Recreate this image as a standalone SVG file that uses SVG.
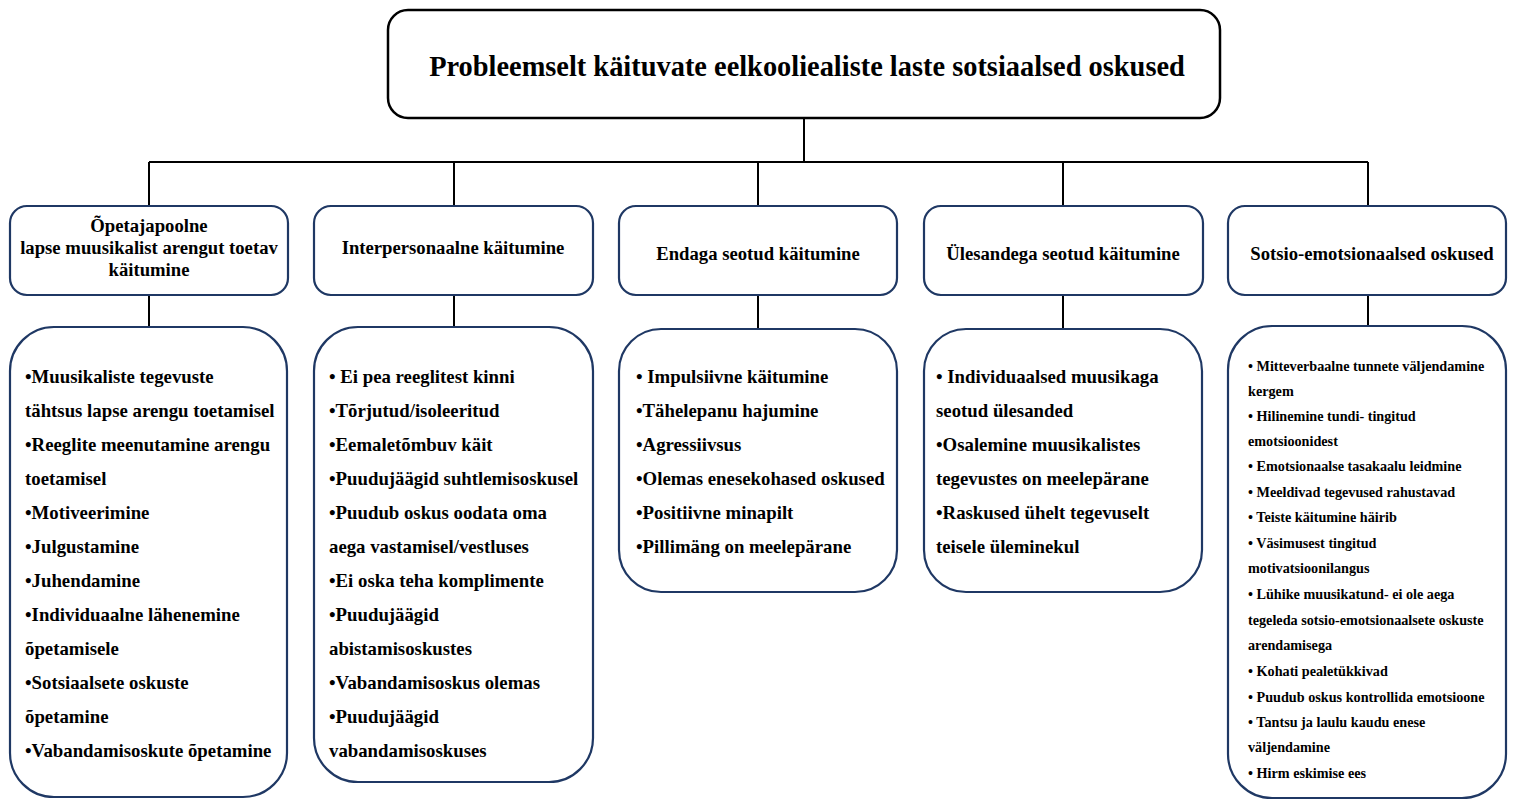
<svg xmlns="http://www.w3.org/2000/svg" width="1514" height="800" viewBox="0 0 1514 800">
<style>
.title{fill:#fff;stroke:#000;stroke-width:2.5}
.hdr{fill:#fff;stroke:#1f3864;stroke-width:2.2}
.box{fill:#fff;stroke:#1f3864;stroke-width:2.2}
.conn{stroke:#000;stroke-width:2;fill:none}
text{font-family:"Liberation Serif","Times New Roman",serif;font-weight:bold;fill:#000}
.t{font-size:28.4px;text-anchor:middle}
.h{font-size:18.7px;text-anchor:middle}
.c{font-size:18.8px}
.s{font-size:14.2px}
</style>
<rect width="1514" height="800" fill="#fff"/>
<g id="connectors">
<path class="conn" d="M804,118 V162 M149,162 H1368 M149,162 V206 M454,162 V206 M758,162 V206 M1063,162 V206 M1368,162 V206"/>
<path class="conn" d="M149,295 V327 M454,295 V327 M758,295 V329 M1063,295 V329 M1368,295 V326"/>
</g>
<g id="title">
<rect class="title" x="388" y="10" width="832" height="108" rx="20"/>
<text class="t" x="807" y="76">Probleemselt käituvate eelkoolie­aliste laste sotsiaalsed oskused</text>
</g>
<g id="h1">
<rect class="hdr" x="10" y="206" width="278" height="89" rx="17"/>
<text class="h" x="149" y="232">Õpetajapoolne</text>
<text class="h" x="149" y="254">lapse muusikalist arengut toetav</text>
<text class="h" x="149" y="276">käitumine</text>
</g>
<g id="h2">
<rect class="hdr" x="314" y="206" width="279" height="89" rx="17"/>
<text class="h" x="453" y="254">Interpersonaalne käitumine</text>
</g>
<g id="h3">
<rect class="hdr" x="619" y="206" width="278" height="89" rx="17"/>
<text class="h" x="758" y="260">Endaga seotud käitumine</text>
</g>
<g id="h4">
<rect class="hdr" x="924" y="206" width="279" height="89" rx="17"/>
<text class="h" x="1063" y="260">Ülesandega seotud käitumine</text>
</g>
<g id="h5">
<rect class="hdr" x="1228" y="206" width="278" height="89" rx="17"/>
<text class="h" x="1372" y="260">Sotsio-emotsionaalsed oskused</text>
</g>
<g id="b1">
<rect class="box" x="10" y="327" width="277" height="470" rx="44"/>
<text class="c" x="25">
<tspan x="25" y="383">•Muusikaliste tegevuste</tspan>
<tspan x="25" y="417">tähtsus lapse arengu toetamisel</tspan>
<tspan x="25" y="451">•Reeglite meenutamine arengu</tspan>
<tspan x="25" y="485">toetamisel</tspan>
<tspan x="25" y="519">•Motiveerimine</tspan>
<tspan x="25" y="553">•Julgustamine</tspan>
<tspan x="25" y="587">•Juhendamine</tspan>
<tspan x="25" y="621">•Individuaalne lähenemine</tspan>
<tspan x="25" y="655">õpetamisele</tspan>
<tspan x="25" y="689">•Sotsiaalsete oskuste</tspan>
<tspan x="25" y="723">õpetamine</tspan>
<tspan x="25" y="757">•Vabandamisoskute õpetamine</tspan>
</text>
</g>
<g id="b2">
<rect class="box" x="314" y="327" width="279" height="455" rx="44"/>
<text class="c">
<tspan x="329" y="383">• Ei pea reeglitest kinni</tspan>
<tspan x="329" y="417">•Tõrjutud/isoleeritud</tspan>
<tspan x="329" y="451">•Eemaletõmbuv käit</tspan>
<tspan x="329" y="485">•Puudujäägid suhtlemisoskusel</tspan>
<tspan x="329" y="519">•Puudub oskus oodata oma</tspan>
<tspan x="329" y="553">aega vastamisel/vestluses</tspan>
<tspan x="329" y="587">•Ei oska teha komplimente</tspan>
<tspan x="329" y="621">•Puudujäägid</tspan>
<tspan x="329" y="655">abistamisoskustes</tspan>
<tspan x="329" y="689">•Vabandamisoskus olemas</tspan>
<tspan x="329" y="723">•Puudujäägid</tspan>
<tspan x="329" y="757">vabandamisoskuses</tspan>
</text>
</g>
<g id="b3">
<rect class="box" x="619" y="329" width="278" height="263" rx="42"/>
<text class="c">
<tspan x="636" y="383">• Impulsiivne käitumine</tspan>
<tspan x="636" y="417">•Tähelepanu hajumine</tspan>
<tspan x="636" y="451">•Agressiivsus</tspan>
<tspan x="636" y="485">•Olemas enesekohased oskused</tspan>
<tspan x="636" y="519">•Positiivne minapilt</tspan>
<tspan x="636" y="553">•Pillimäng on meelepärane</tspan>
</text>
</g>
<g id="b4">
<rect class="box" x="924" y="329" width="278" height="263" rx="42"/>
<text class="c">
<tspan x="936" y="383">• Individuaalsed muusikaga</tspan>
<tspan x="936" y="417">seotud ülesanded</tspan>
<tspan x="936" y="451">•Osalemine muusikalistes</tspan>
<tspan x="936" y="485">tegevustes on meelepärane</tspan>
<tspan x="936" y="519">•Raskused ühelt tegevuselt</tspan>
<tspan x="936" y="553">teisele üleminekul</tspan>
</text>
</g>
<g id="b5">
<rect class="box" x="1228" y="326" width="278" height="472" rx="44"/>
<text class="s">
<tspan x="1248" y="371">• Mitteverbaalne tunnete väljendamine</tspan>
<tspan x="1248" y="396">kergem</tspan>
<tspan x="1248" y="421">• Hilinemine tundi- tingitud</tspan>
<tspan x="1248" y="446">emotsioonidest</tspan>
<tspan x="1248" y="471">• Emotsionaalse tasakaalu leidmine</tspan>
<tspan x="1248" y="497">• Meeldivad tegevused rahustavad</tspan>
<tspan x="1248" y="522">• Teiste käitumine häirib</tspan>
<tspan x="1248" y="548">• Väsimusest tingitud</tspan>
<tspan x="1248" y="573">motivatsioonilangus</tspan>
<tspan x="1248" y="599">• Lühike muusikatund- ei ole aega</tspan>
<tspan x="1248" y="625">tegeleda sotsio-emotsionaalsete oskuste</tspan>
<tspan x="1248" y="650">arendamisega</tspan>
<tspan x="1248" y="676">• Kohati pealetükkivad</tspan>
<tspan x="1248" y="702">• Puudub oskus kontrollida emotsioone</tspan>
<tspan x="1248" y="727">• Tantsu ja laulu kaudu enese</tspan>
<tspan x="1248" y="752">väljendamine</tspan>
<tspan x="1248" y="778">• Hirm eskimise ees</tspan>
</text>
</g>
</svg>
